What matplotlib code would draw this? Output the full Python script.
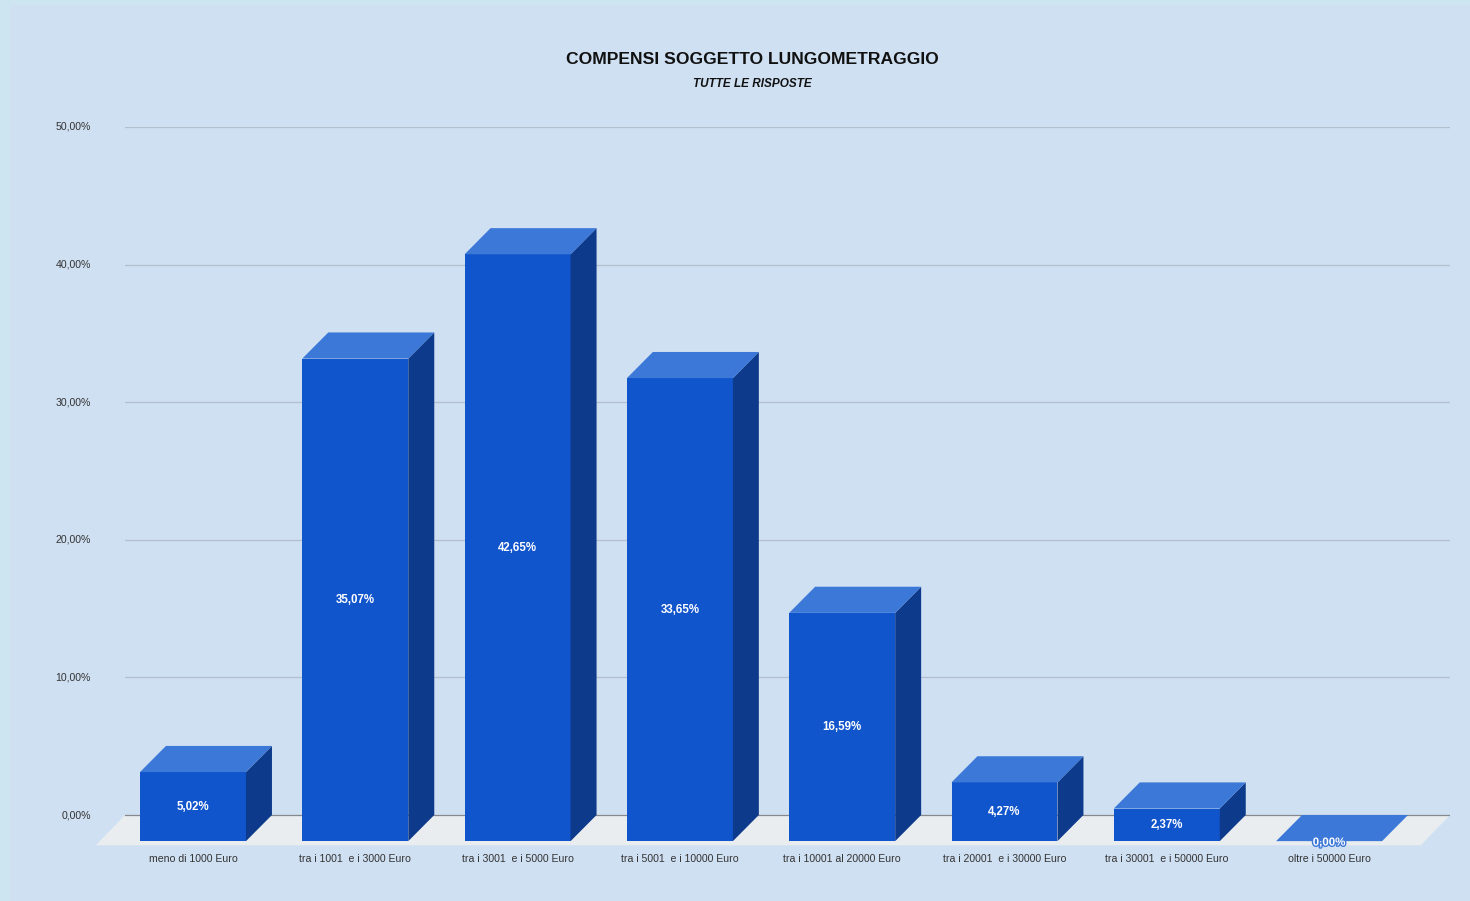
import numpy as np
import matplotlib
matplotlib.use("Agg")
import matplotlib.pyplot as plt
from matplotlib.patches import Polygon, Rectangle
import matplotlib.patheffects as pe

plt.rcParams['font.family'] = ['Liberation Sans', 'DejaVu Sans']

categories = ['meno di 1000 Euro', 'tra i 1001  e i 3000 Euro', 'tra i 3001  e i 5000 Euro',
              'tra i 5001  e i 10000 Euro', 'tra i 10001 al 20000 Euro', 'tra i 20001  e i 30000 Euro',
              'tra i 30001  e i 50000 Euro', 'oltre i 50000 Euro']
values = [5.02, 35.07, 42.65, 33.65, 16.59, 4.27, 2.37, 0.00]
yticks = [0, 10, 20, 30, 40, 50]

BG = '#cfe0f2'
FRONT = '#1155cc'
TOP = '#3c78d8'
SIDE = '#0d3a8a'
FLOOR = '#e9edf0'

# pseudo-3D depth in data units
DX = 0.16
DY = 1.9
W = 0.653

fig = plt.figure(figsize=(14.7, 9.01), dpi=100, facecolor=BG)
# thin lighter strip along the left and top edges
fig.patches.append(Rectangle((0, 0), 9 / 1470, 1, transform=fig.transFigure,
                             color='#cde5f1', zorder=0))
fig.patches.append(Rectangle((0, 1 - 4 / 901), 1, 4 / 901, transform=fig.transFigure,
                             color='#cde5f1', zorder=0))

ax = fig.add_axes([125 / 1470, (901 - 849.4) / 901, 1325 / 1470, (849.4 - 127) / 901])
ax.set_facecolor('none')
ax.set_xlim(-0.419, 7.745)
ax.set_ylim(-2.5, 50)
for sp in ax.spines.values():
    sp.set_visible(False)
ax.set_xticks([])
ax.set_yticks([])

# gridlines on the back wall
for t in yticks:
    ax.axhline(t, color='#b3bfcc' if t else '#85898e', lw=0.9, zorder=1)
    ax.text(-0.419 - 0.21, t, f'{t},00%', ha='right', va='center',
            fontsize=7.6, color='#333333', clip_on=False)

# floor
x0, x1 = -0.419, 7.745
ax.add_patch(Polygon([(x0 - DX - 0.02, -DY - 0.3), (x0, 0), (x1, 0), (x1 - DX - 0.02, -DY - 0.3)],
                     closed=True, facecolor=FLOOR, edgecolor='none', zorder=0.5, clip_on=False))

for i, (cat, v) in enumerate(zip(categories, values)):
    left = i - W / 2
    right = i + W / 2
    base = -DY
    top = base + v
    if v > 0:
        # front face
        ax.add_patch(Rectangle((left, base), W, v, facecolor=FRONT, edgecolor='none', zorder=3))
        # right side face
        ax.add_patch(Polygon([(right, base), (right + DX, base + DY), (right + DX, top + DY), (right, top)],
                             closed=True, facecolor=SIDE, edgecolor='none', zorder=3))
    # top face
    ax.add_patch(Polygon([(left, top), (left + DX, top + DY), (right + DX, top + DY), (right, top)],
                         closed=True, facecolor=TOP, edgecolor='none', zorder=3))
    label = f'{v:.2f}%'.replace('.', ',')
    if v > 0:
        ax.text(i, base + v / 2, label, ha='center', va='center', fontsize=8.3,
                fontweight='bold', color='white', zorder=5)
    else:
        ax.text(i, base - 0.1, label, ha='center', va='center', fontsize=8.3, fontweight='bold',
                color='white', zorder=5,
                path_effects=[pe.withStroke(linewidth=2, foreground=TOP)])
    ax.text(i, -3.2, cat, ha='center', va='center', fontsize=7.6, color='#333333',
            clip_on=False)

fig.text(752 / 1470, 1 - 59 / 901, 'COMPENSI SOGGETTO LUNGOMETRAGGIO', ha='center', va='center',
         fontsize=12.6, fontweight='bold', color='#111111')
fig.text(752 / 1470, 1 - 84 / 901, 'TUTTE LE RISPOSTE', ha='center', va='center',
         fontsize=8.5, fontweight='bold', fontstyle='italic', color='#111111')

fig.savefig('out.png', dpi=100, facecolor=BG)
